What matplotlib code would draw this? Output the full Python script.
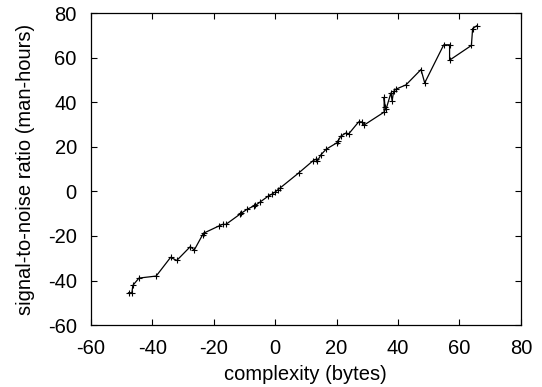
import matplotlib
matplotlib.use('Agg')
import matplotlib.pyplot as plt

# points, in drawing order
complexity = [-47.7, -46.6, -46.3, -44.3, -38.7, -34.0, -32.0, -27.6, -26.3,
              -23.6, -23.0, -18.1, -17.1, -16.0, -11.4, -11.1, -9.2, -7.0,
              -6.4, -4.9, -2.2, -1.0, 0.0, 0.8, 1.7, 7.8, 12.3, 13.2, 13.8,
              14.9, 16.6, 20.1, 20.6, 21.4, 23.2, 23.9, 27.2, 28.3, 29.0,
              35.5, 35.5, 35.8, 36.2, 37.7, 38.1, 38.6, 39.2, 42.6, 47.5,
              48.7, 54.9, 56.8, 56.8, 63.9, 64.3, 65.6]
snr = [-45.5, -45.5, -42.2, -38.9, -38.0, -29.6, -31.0, -24.8, -26.3,
       -19.5, -18.6, -15.4, -14.8, -14.8, -10.2, -9.9, -8.1, -6.6,
       -6.3, -4.8, -2.1, -1.2, -0.3, 0.6, 1.6, 8.4, 13.7, 14.4, 13.7,
       16.4, 18.9, 21.8, 22.8, 24.8, 26.3, 25.7, 31.2, 31.2, 29.8,
       35.6, 42.2, 38.0, 37.2, 44.2, 40.7, 44.9, 45.8, 47.8, 54.7,
       48.7, 65.8, 65.8, 58.9, 65.5, 73.1, 74.3]

plt.rcParams['font.family'] = ['Liberation Sans', 'DejaVu Sans']
plt.rcParams['font.size'] = 14.5
plt.rcParams['axes.unicode_minus'] = False

fig = plt.figure(figsize=(5.42, 3.87), dpi=100)
ax = fig.add_axes([0.1674, 0.160, 0.7936, 0.806])

ax.plot(complexity, snr, color='black', lw=0.9, marker='+',
        markersize=5, markeredgewidth=0.8)

ax.set_xlim(-60, 80)
ax.set_ylim(-60, 80)
ax.set_xticks(range(-60, 81, 20))
ax.set_yticks(range(-60, 81, 20))
ax.tick_params(direction='in', top=True, right=True, length=4.5, width=0.8,
               pad=10)
for s in ax.spines.values():
    s.set_linewidth(0.9)

ax.set_xlabel('complexity (bytes)', labelpad=5)
ax.set_ylabel('signal-to-noise ratio (man-hours)', labelpad=9)

fig.savefig('out.png', dpi=100)
